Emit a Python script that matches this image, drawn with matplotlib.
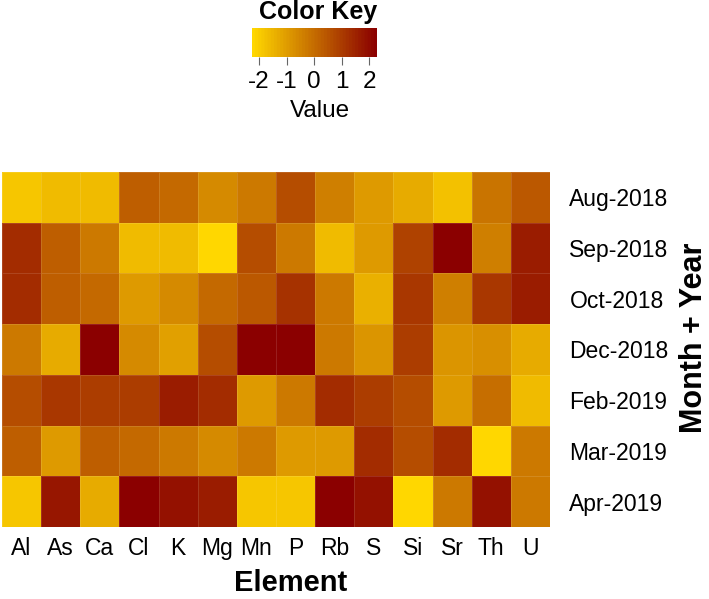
import matplotlib
matplotlib.use("Agg")
import matplotlib.pyplot as plt
import numpy as np
from matplotlib.colors import LinearSegmentedColormap

plt.rcParams["font.family"] = ["Liberation Sans", "DejaVu Sans"]

# ---------------------------------------------------------
# DATA (column-scaled values)
# ---------------------------------------------------------

elements = ["Al", "As", "Ca", "Cl", "K", "Mg", "Mn", "P", "Rb", "S", "Si", "Sr", "Th", "U"]
months = ["Aug-2018", "Sep-2018", "Oct-2018", "Dec-2018", "Feb-2019", "Mar-2019", "Apr-2019"]

aug_2018 = [-1.91, -1.59, -1.59, 0.23, 0.00, -0.68, -0.23, 0.59, -0.36, -0.91, -1.27, -1.72, -0.14, 0.45]
sep_2018 = [1.27, 0.27, -0.23, -1.59, -1.59, -2.27, 0.64, -0.23, -1.59, -0.91, 0.82, 2.27, -0.45, 1.68]
oct_2018 = [1.27, 0.27, 0.09, -0.91, -0.64, 0.09, 0.36, 1.14, -0.23, -1.45, 1.04, -0.45, 1.04, 1.68]
dec_2018 = [-0.23, -1.36, 2.27, -0.68, -1.04, 0.59, 2.27, 2.27, -0.23, -0.82, 0.91, -0.82, -0.77, -1.32]
feb_2019 = [0.59, 1.09, 0.91, 1.00, 1.68, 1.27, -0.91, -0.23, 1.36, 0.91, 0.68, -0.91, -0.09, -1.59]
mar_2019 = [0.27, -0.91, 0.27, 0.00, -0.23, -0.68, -0.23, -1.00, -1.00, 1.27, 0.68, 1.27, -2.27, -0.23]
apr_2019 = [-1.91, 1.73, -1.36, 2.27, 1.91, 1.59, -1.91, -1.91, 2.27, 1.91, -2.27, -0.23, 1.91, -0.23]

key_ticks = [-2, -1, 0, 1, 2]

# ---------------------------------------------------------
# PLOT
# ---------------------------------------------------------

W, H = 709, 599
VMAX = 2.27


def box(left, top, right, bottom):
    # pixel box -> figure fraction
    return [left / W, 1 - bottom / H, (right - left) / W, (bottom - top) / H]


def px(x, y):
    return x / W, 1 - y / H


cmap = LinearSegmentedColormap.from_list("gold_darkred", ["#FFD700", "#8B0000"], N=40)

fig = plt.figure(figsize=(W / 100, H / 100), dpi=100)

values = np.array([aug_2018, sep_2018, oct_2018, dec_2018, feb_2019, mar_2019, apr_2019])

ax = fig.add_axes(box(2, 172, 550, 527))
ax.pcolormesh(values, cmap=cmap, vmin=-VMAX, vmax=VMAX,
              edgecolor=(1, 1, 1, 0.12), linewidth=0.5)
ax.set_xlim(0, len(elements))
ax.set_ylim(len(months), 0)
ax.set_xticks(np.arange(len(elements)) + 0.5)
ax.set_xticklabels(elements, fontsize=16.5)
ax.set_yticks(np.arange(len(months)) + 0.5)
ax.set_yticklabels(months, fontsize=16.5)
ax.yaxis.tick_right()
ax.tick_params(length=0, pad=14)
ax.tick_params(axis="x", pad=7)
for s in ax.spines.values():
    s.set_visible(False)

fig.text(*px(291, 583), "Element", fontsize=21, fontweight="bold",
         ha="center", va="center")
fig.text(*px(694, 338), "Month + Year", fontsize=22, fontweight="bold",
         ha="center", va="center", rotation=90)

# color key
kax = fig.add_axes(box(251.7, 28, 376.7, 57))
grad = np.linspace(-VMAX, VMAX, 400).reshape(1, -1)
kax.imshow(grad, cmap=cmap, vmin=-VMAX, vmax=VMAX, aspect="auto",
           extent=[-VMAX, VMAX, 0, 1])
kax.set_yticks([])
kax.set_xticks(key_ticks)
kax.set_xticklabels([str(t) for t in key_ticks], fontsize=17.5)
kax.tick_params(axis="x", length=6, width=0.8, color="#666666", pad=4)
for s in kax.spines.values():
    s.set_visible(False)

fig.text(*px(320, 111), "Value", fontsize=17.5, ha="center", va="center")
fig.text(*px(318, 12), "Color Key", fontsize=18, fontweight="bold",
         ha="center", va="center")

fig.savefig("out.png", dpi=100)
